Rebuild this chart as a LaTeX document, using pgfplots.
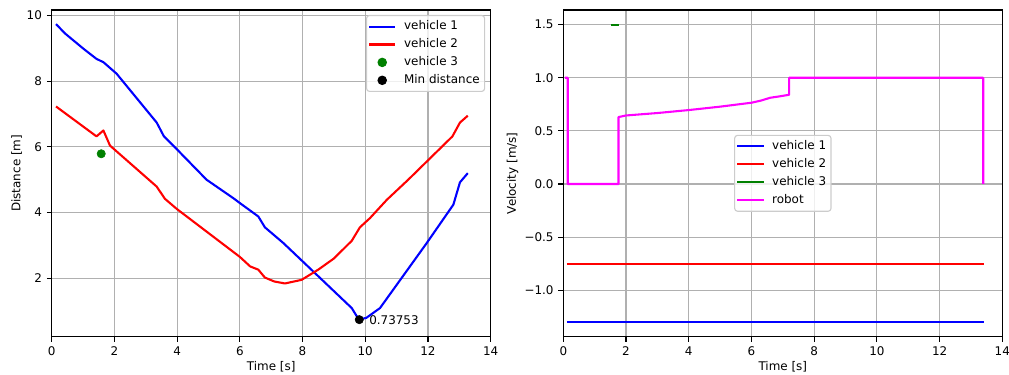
\documentclass[border=0pt]{standalone}
\usepackage{pgfplots}
\pgfplotsset{compat=1.18}
\usepackage{fontspec}
\setmainfont{DejaVu Sans}
\newcommand\f{\fontsize{8.6}{10.3}\selectfont}
\definecolor{gridc}{RGB}{176,176,176}
\definecolor{legc}{RGB}{204,204,204}
\definecolor{mgreen}{rgb}{0,0.5,0}
\definecolor{mmag}{RGB}{255,0,255}
\definecolor{mblue}{RGB}{0,0,255}
\definecolor{mred}{RGB}{255,0,0}
\pgfplotsset{
  myax/.style={
    scale only axis, width=316.1pt, height=235.2pt,
    anchor=south west,
    xmin=0, xmax=14, xtick={0,2,...,14},
    grid=major, grid style={gridc, line width=0.8pt},
    axis line style={line width=0.8pt},
    tick align=outside, major tick length=3.5pt,
    every tick/.style={black, line width=0.8pt},
    xtick pos=bottom, ytick pos=left,
    tick label style={font=\f},
    /pgf/number format/assume math mode=true,
    label style={font=\f},
    xlabel={Time [s]},
    xlabel style={at={(axis description cs:0.5,0)}, anchor=center, yshift=-21.8pt},
    legend style={font=\f, draw=legc, line width=0.8pt, rounded corners=2pt, fill=white, fill opacity=0.8, text opacity=1,
      nodes={inner xsep=2.5pt, inner ysep=2.2pt, text height=6.5pt, text depth=2pt}, inner xsep=1pt, inner ysep=1.5pt,
      column sep=3pt},
    legend cell align=left,
    legend image code/.code={\draw[#1, mark=none] (0pt,0pt) -- (19pt,0pt);},
  },
  dotleg/.style={legend image code/.code={\draw[#1, fill opacity=1, draw opacity=1] plot coordinates {(9.5pt,0pt)};}},
}
\begin{document}
\begin{tikzpicture}
\useasboundingbox (0,0) rectangle (726.5pt,269.3pt);
% left axis
\begin{axis}[myax, at={(37.2pt,26.9pt)},
  ymin=0.22, ymax=10.17, ytick={2,4,6,8,10},
  ylabel={Distance [m]},
  ylabel style={at={([xshift=-25.2pt]axis description cs:0,0.5)}, anchor=center, rotate=0},
  legend style={at={(1,1)}, anchor=north east, xshift=-4pt, yshift=-3.6pt},
]
\addplot[mblue, line width=1.5pt, line join=round] coordinates {
(0.14,9.74)(0.42,9.46)(1.0,9.0)(1.43,8.68)(1.65,8.58)(2.07,8.23)(3.35,6.74)(3.58,6.32)(3.99,5.93)(4.94,5.0)(5.79,4.44)(6.0,4.29)(6.59,3.88)(6.80,3.55)(7.39,3.07)(9.57,1.09)(9.73,0.84)(9.89,0.76)(10.03,0.79)(10.47,1.09)(11.96,3.07)(12.81,4.24)(13.02,4.92)(13.27,5.2)};
\addlegendentry{vehicle 1}
\addplot[mred, line width=1.5pt, line join=round] coordinates {
(0.14,7.23)(1.43,6.32)(1.65,6.5)(1.86,6.04)(3.35,4.79)(3.61,4.42)(3.99,4.11)(6.0,2.65)(6.33,2.36)(6.59,2.26)(6.80,2.02)(7.1,1.9)(7.44,1.84)(7.97,1.95)(8.5,2.26)(9.0,2.6)(9.57,3.14)(9.83,3.55)(10.15,3.83)(10.69,4.39)(11.37,5.0)(12.78,6.32)(13.02,6.74)(13.27,6.95)};
\addlegendentry{vehicle 2}
\addplot[only marks, mark=*, mark size=3pt, mgreen, mark options={draw=mgreen, fill=mgreen}, dotleg] coordinates {(1.58,5.79)};
\addlegendentry{vehicle 3}
\addplot[only marks, mark=*, mark size=3pt, black, dotleg] coordinates {(9.81,0.7375)};
\addlegendentry{Min distance}
\node[anchor=west, inner sep=0pt, font=\f, xshift=7pt] at (axis cs:9.81,0.7375) {0.73753};
\end{axis}
% right axis
\begin{axis}[myax, at={(405.6pt,26.9pt)},
  ymin=-1.437, ymax=1.638, ytick={-1,-0.5,0,0.5,1,1.5},
  yticklabels={−1.0,−0.5,0.0,0.5,1.0,1.5},
  ylabel={Velocity [m/s]},
  ylabel style={at={([xshift=-36.6pt]axis description cs:0,0.5)}, anchor=center, rotate=0},
  legend style={at={(0.5,0.5)}, anchor=center},
]
\addplot[mblue, line width=1.5pt] coordinates {(0.11,-1.3)(13.41,-1.3)};
\addlegendentry{vehicle 1}
\addplot[mred, line width=1.5pt] coordinates {(0.11,-0.75)(13.41,-0.75)};
\addlegendentry{vehicle 2}
\addplot[mgreen, line width=1.5pt] coordinates {(1.52,1.5)(1.78,1.5)};
\addlegendentry{vehicle 3}
\addplot[mmag, line width=1.5pt, line join=round] coordinates {
(0.05,1.0)(0.14,1.0)(0.14,0)(1.76,0)(1.76,0.63)(2.0,0.645)(3.0,0.668)(4.0,0.696)(5.0,0.728)(6.0,0.765)(6.3,0.785)(6.6,0.812)(6.9,0.825)(7.2,0.84)(7.2,1.0)(13.39,1.0)(13.39,0)};
\addlegendentry{robot}
\end{axis}
\end{tikzpicture}
\end{document}
